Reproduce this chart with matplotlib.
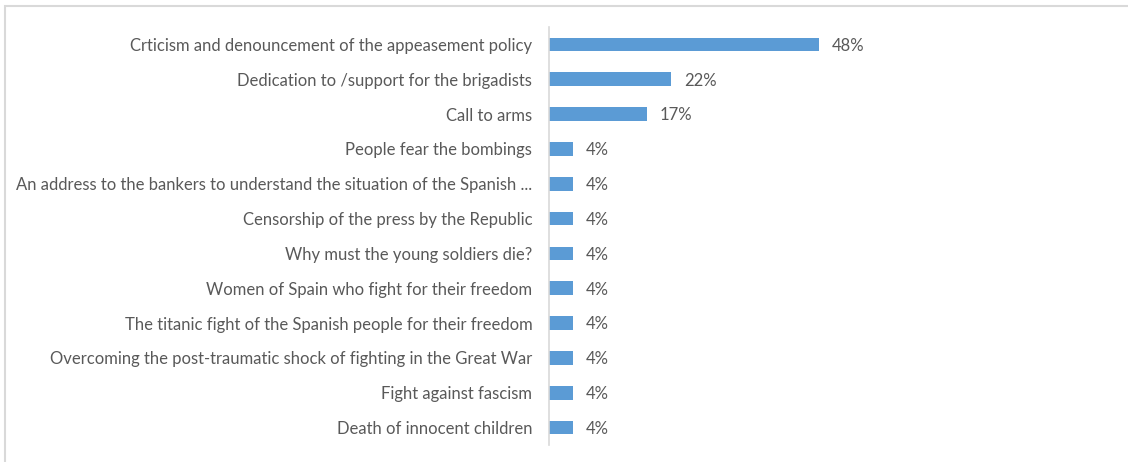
import matplotlib.pyplot as plt
from matplotlib.patches import Rectangle

labels = [
    "Crticism and denouncement of the appeasement policy",
    "Dedication to /support for the brigadists",
    "Call to arms",
    "People fear the bombings",
    "An address to the bankers to understand the situation of the Spanish ...",
    "Censorship of the press by the Republic",
    "Why must the young soldiers die?",
    "Women of Spain who fight for their freedom",
    "The titanic fight of the Spanish people for their freedom",
    "Overcoming the post-traumatic shock of fighting in the Great War",
    "Fight against fascism",
    "Death of innocent children",
]
values = [0.478, 0.217, 0.174, 0.043, 0.043, 0.043, 0.043, 0.043, 0.043, 0.043, 0.043, 0.043]

plt.rcParams['font.family'] = ['Lato', 'DejaVu Sans']
txt = '#595959'

fig = plt.figure(figsize=(11.28, 4.62), dpi=100)
fig.patches.append(Rectangle((5 / 1128, -0.1), 1.2, (462 - 6) / 462 + 0.1,
                             transform=fig.transFigure, fill=False,
                             edgecolor='#d9d9d9', linewidth=1.5))

ax = fig.add_axes([549 / 1128, 1 - 445 / 462, 551 / 1128, 418 / 462])
ypos = list(range(len(labels)))
ax.barh(ypos, values, height=0.39, color='#5b9bd5')
ax.set_ylim(len(labels) - 0.5, -0.5)
ax.set_xlim(0, 551 / 564.5)

ax.set_yticks(ypos)
ax.set_yticklabels(labels, fontsize=12, color=txt)
ax.tick_params(axis='y', length=0, pad=12)
ax.set_xticks([])
for s in ['top', 'right', 'bottom']:
    ax.spines[s].set_visible(False)
ax.spines['left'].set_color('#d9d9d9')
ax.spines['left'].set_linewidth(1.2)

for y, v in zip(ypos, values):
    ax.annotate(f"{round(v * 100):.0f}%", (v, y), xytext=(9, -1), textcoords='offset points',
                va='center', ha='left', fontsize=12, color=txt)

fig.savefig('out.png', dpi=100)
